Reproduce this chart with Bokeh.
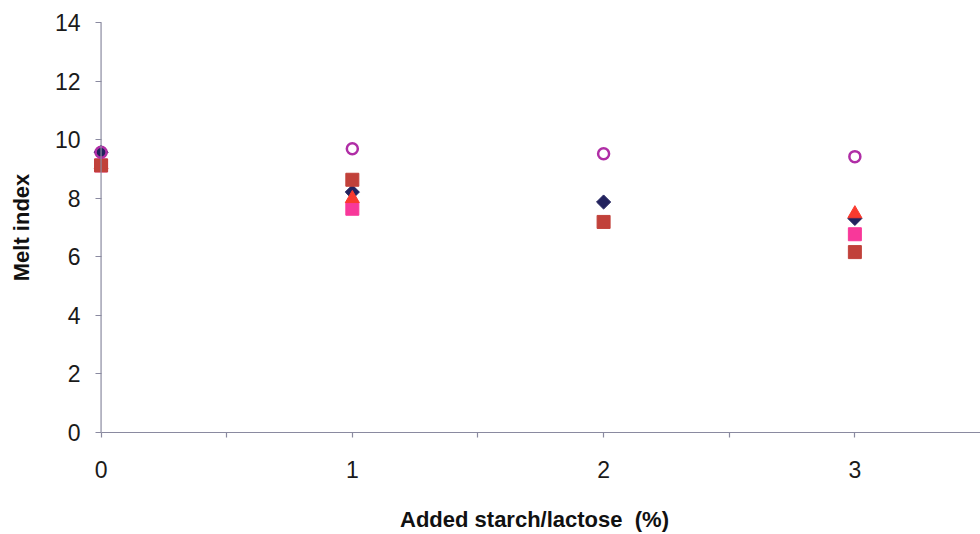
import numpy as np
from bokeh.plotting import figure
from bokeh.models import FixedTicker, Range1d, Span
from bokeh.embed import file_html
from bokeh.resources import INLINE

# Data
starch = [0, 1, 2, 3]
series_diamond = [9.57, 8.21, 7.87, 7.31]
series_pink = [9.12, 7.64, np.nan, 6.77]
series_triangle = [9.15, 7.99, np.nan, 7.47]
series_brown = [9.12, 8.63, 7.19, 6.16]
series_circle = [9.57, 9.69, 9.52, 9.42]

x_ticks = [0, 0.5, 1, 1.5, 2, 2.5, 3]
x_tick_labels = {0: "0", 0.5: "", 1: "1", 1.5: "", 2: "2", 2.5: "", 3: "3"}
y_ticks = [0, 2, 4, 6, 8, 10, 12, 14]

FONT = "Liberation Sans"
AXIS_COLOR = "#8a8aa0"

p = figure(width=980, height=534, output_backend="svg", toolbar_location=None,
           x_range=Range1d(-0.05, 3.5), y_range=Range1d(0, 14),
           min_border_left=88, min_border_right=0, min_border_top=22,
           min_border_bottom=101)
p.outline_line_color = None
p.grid.visible = False
p.background_fill_color = "white"
p.border_fill_color = "white"

p.xaxis.bounds = (0, 3.5)
p.xaxis.ticker = FixedTicker(ticks=x_ticks)
p.xaxis.major_label_overrides = x_tick_labels
p.yaxis.ticker = FixedTicker(ticks=y_ticks)

for ax in (p.xaxis, p.yaxis):
    ax.axis_line_color = AXIS_COLOR
    ax.axis_line_width = 1.2
    ax.major_tick_line_color = AXIS_COLOR
    ax.major_tick_line_width = 1.2
    ax.major_tick_in = 0
    ax.minor_tick_line_color = None
    ax.major_label_text_font = FONT
    ax.major_label_text_font_size = "23px"
    ax.major_label_text_color = "#1a1a1a"
    ax.axis_label_text_font = FONT
    ax.axis_label_text_font_style = "bold"
    ax.axis_label_text_font_size = "22px"
    ax.axis_label_text_color = "#111111"

# y axis rule sits at x = 0 (inside the frame), so draw it as a span
p.yaxis.axis_line_color = None
p.yaxis.major_tick_in = 13
p.yaxis.major_tick_out = -7
p.yaxis.major_label_standoff = 8
p.add_layout(Span(location=0, dimension="height", line_color=AXIS_COLOR, line_width=1.2))

p.xaxis.major_tick_out = 5
p.xaxis.major_label_standoff = 23
p.xaxis.axis_label = "Added starch/lactose\u00a0 (%)"
p.yaxis.axis_label = "Melt index"
p.xaxis.axis_label_standoff = 26
p.yaxis.axis_label_standoff = 18

p.scatter(starch, series_pink, marker="square", size=13,
          fill_color="#f8389a", line_color="#f8389a")
p.scatter(starch, series_diamond, marker="square", size=10, angle=np.pi / 4,
          fill_color="#22225e", line_color="#22225e")
p.scatter(starch, series_triangle, marker="triangle", size=14,
          fill_color="#fa3a2e", line_color="#fa3a2e")
p.scatter(starch, series_brown, marker="square", size=13,
          fill_color="#c1413a", line_color="#c1413a")
p.scatter(starch, series_circle, marker="circle", size=11,
          fill_color=None, line_color="#b02ea6", line_width=2.5)

open("out.html", "w").write(file_html(p, INLINE))
